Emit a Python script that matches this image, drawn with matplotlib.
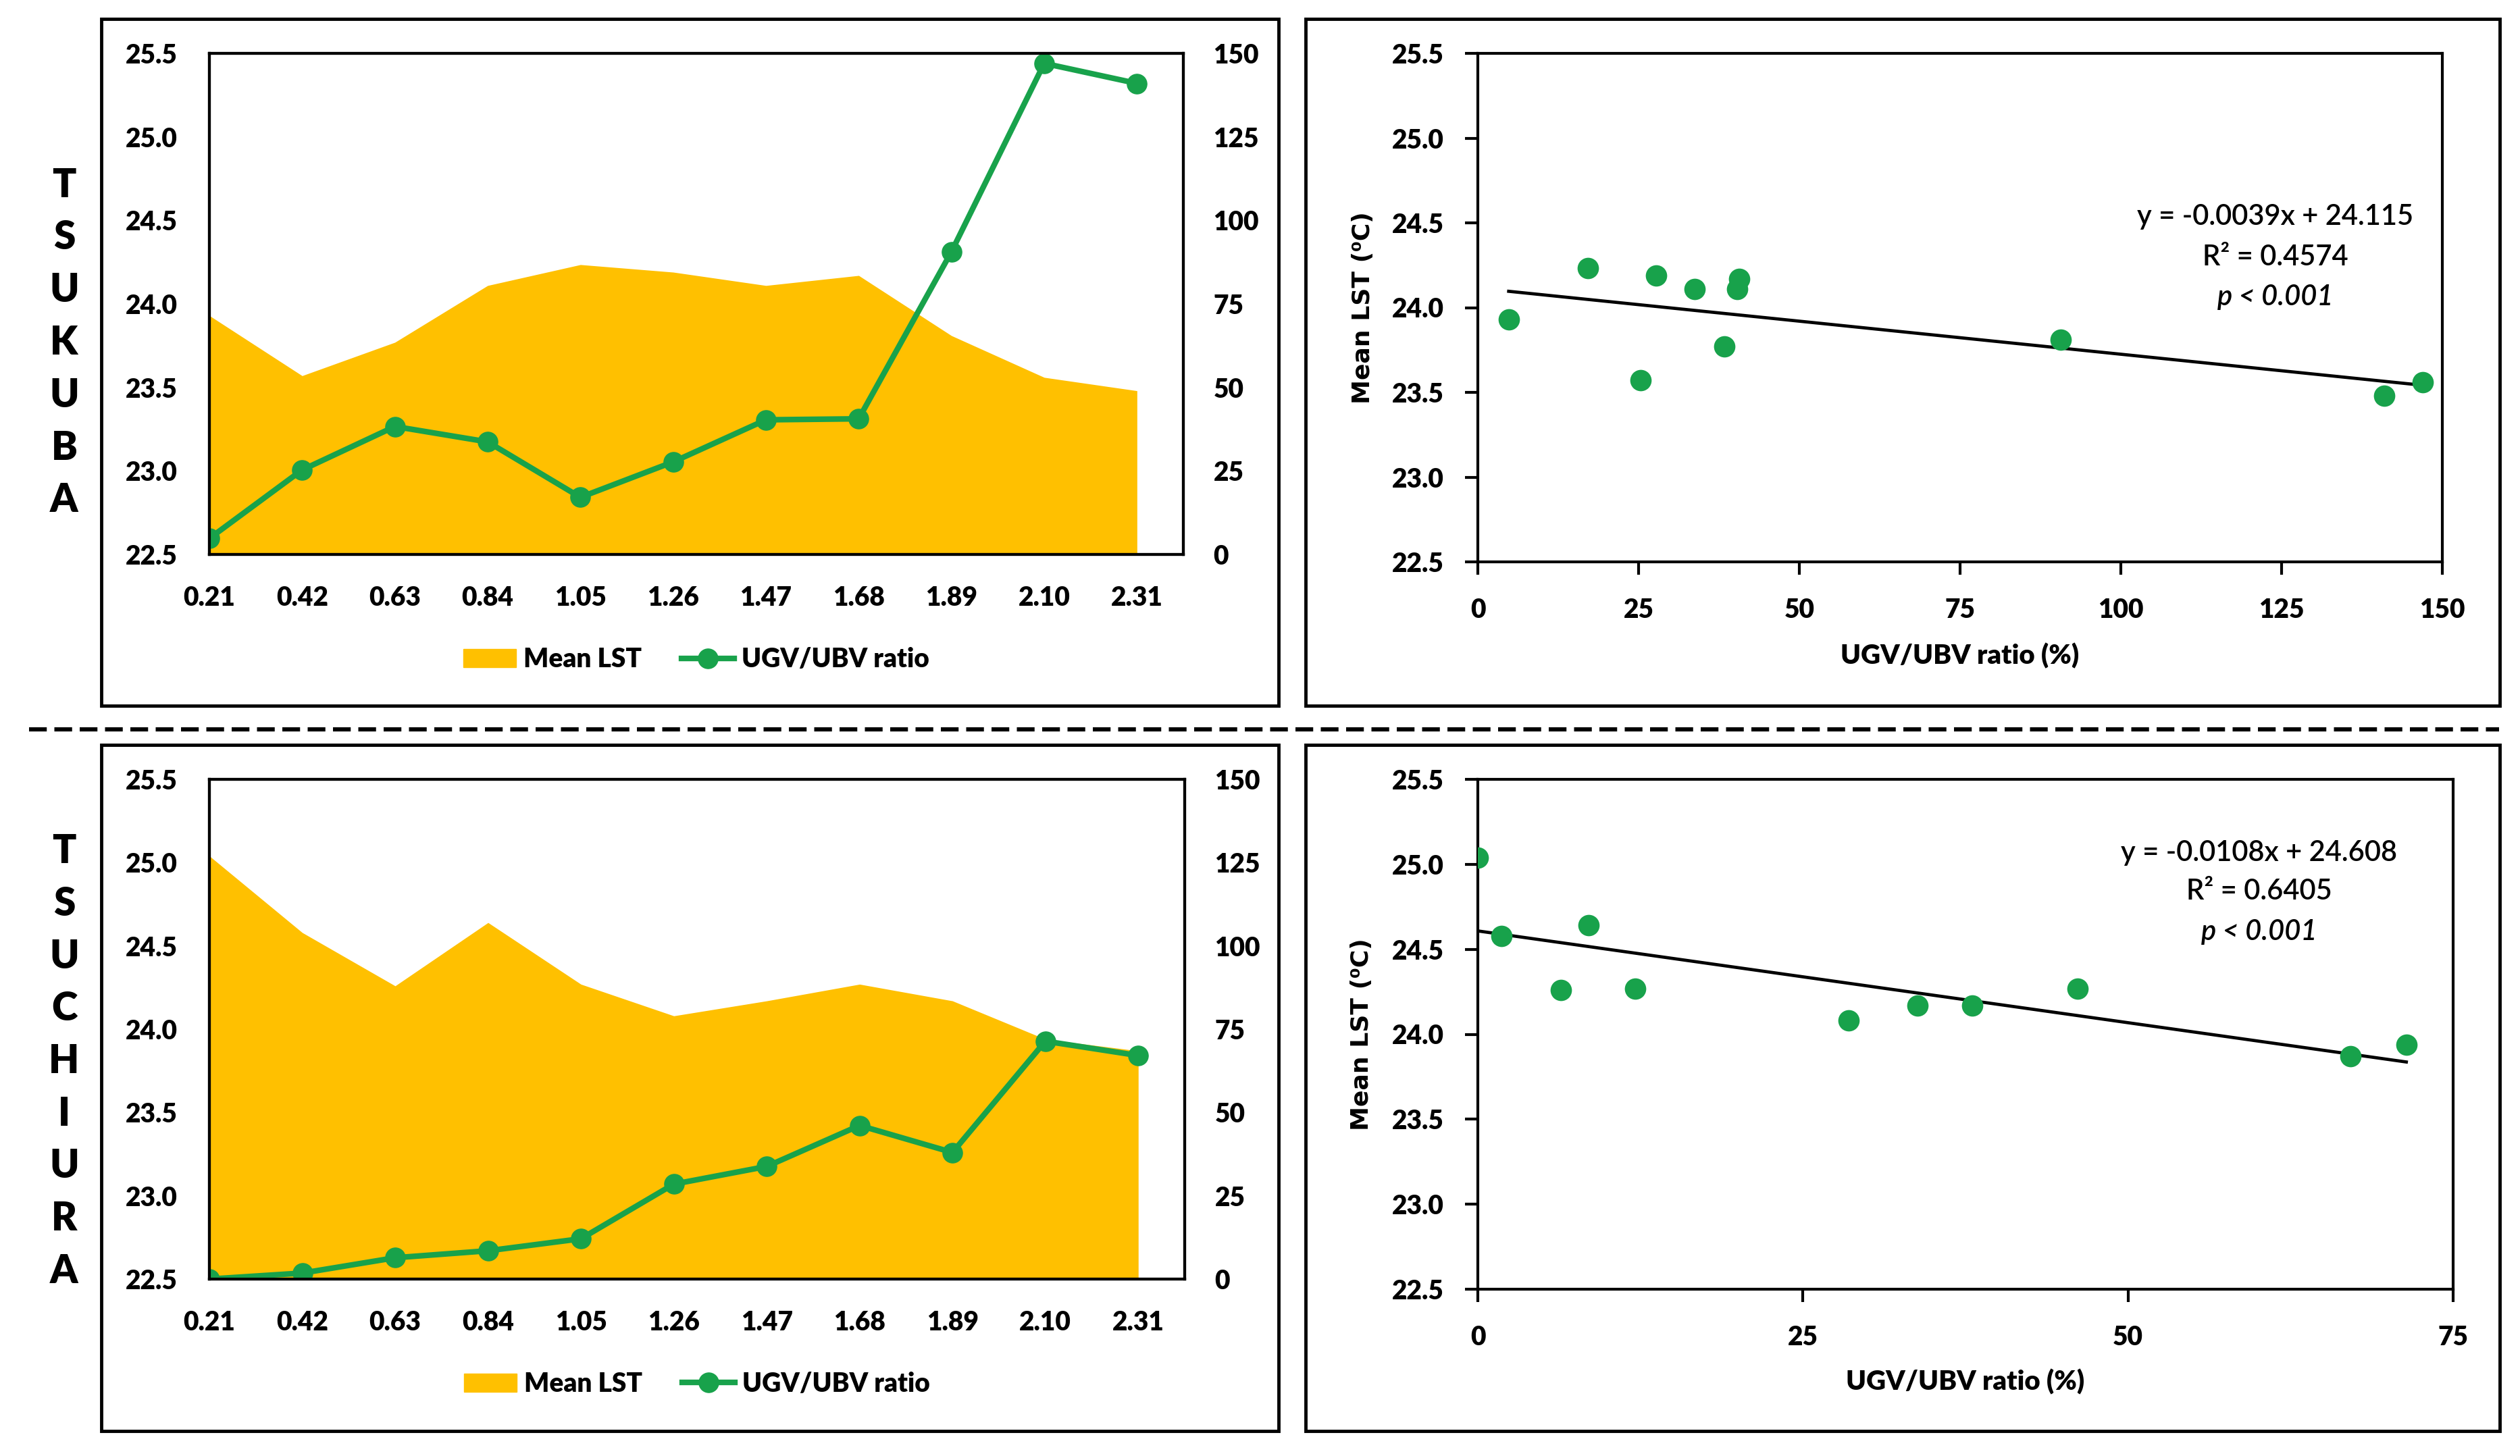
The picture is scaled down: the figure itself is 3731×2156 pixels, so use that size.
import numpy as np
import matplotlib
matplotlib.use("Agg")
import matplotlib.pyplot as plt
from matplotlib.patches import Rectangle, Patch
from matplotlib.lines import Line2D

plt.rcParams['font.family'] = ['Lato', 'DejaVu Sans']

# ---- data ----
categories = ['0.21', '0.42', '0.63', '0.84', '1.05', '1.26', '1.47', '1.68', '1.89', '2.10', '2.31']

tsukuba_lst = [23.93, 23.57, 23.77, 24.11, 24.235, 24.19, 24.11, 24.17, 23.81, 23.56, 23.48]
tsukuba_ratio = [4.8, 25.3, 38.3, 33.7, 17.1, 27.7, 40.3, 40.6, 90.6, 147.0, 141.0]

tsuchiura_lst = [25.04, 24.58, 24.26, 24.64, 24.27, 24.08, 24.17, 24.27, 24.17, 23.94, 23.87]
tsuchiura_ratio = [0.0, 1.8, 6.4, 8.5, 12.1, 28.5, 33.8, 46.1, 38.0, 71.4, 67.1]

# regression lines as printed on the chart
tsukuba_fit = (-0.0039, 24.115)
tsuchiura_fit = (-0.0108, 24.608)
tsukuba_stats = ['y = -0.0039x + 24.115', 'R² = 0.4574', 'p < 0.001']
tsuchiura_stats = ['y = -0.0108x + 24.608', 'R² = 0.6405', 'p < 0.001']

GOLD = '#FFC000'
GREEN = '#18A24B'
BOLD = 'heavy'

W, H = 3731, 2156
fig = plt.figure(figsize=(W / 100, H / 100), dpi=100)


def px_rect(left, top, right, bottom):
    return [left / W, 1 - bottom / H, (right - left) / W, (bottom - top) / H]


def frame_box(left, top, right, bottom):
    r = Rectangle((left / W, 1 - bottom / H), (right - left) / W, (bottom - top) / H,
                  transform=fig.transFigure, fill=False, lw=3.5, ec='black')
    fig.add_artist(r)


def line_panel(rect, lst, ratio):
    ax = fig.add_axes(rect)
    x = np.arange(len(categories))
    ax.fill_between(x, lst, 22.5, color=GOLD, lw=0)
    ax.set_xlim(0, len(categories) - 0.5)
    ax.set_ylim(22.5, 25.5)
    ax.set_yticks(np.arange(22.5, 25.51, 0.5))
    ax.set_yticklabels([f'{v:.1f}' for v in np.arange(22.5, 25.51, 0.5)])
    ax.set_xticks(x)
    ax.set_xticklabels(categories)
    ax.tick_params(axis='both', length=0, labelsize=28)
    ax.tick_params(axis='y', pad=34)
    ax.tick_params(axis='x', pad=33)
    for lab in ax.get_xticklabels() + ax.get_yticklabels():
        lab.set_fontweight(BOLD)
    for s in ax.spines.values():
        s.set_linewidth(3)

    ax2 = ax.twinx()
    ax2.plot(x, ratio, color=GREEN, lw=6, marker='o', ms=21, mfc=GREEN, mec=GREEN)
    ax2.set_ylim(0, 150)
    ax2.set_yticks(np.arange(0, 151, 25))
    ax2.tick_params(axis='y', length=0, labelsize=28, pad=32)
    for lab in ax2.get_yticklabels():
        lab.set_fontweight(BOLD)
    for s in ax2.spines.values():
        s.set_linewidth(3)

    handles = [Patch(color=GOLD),
               Line2D([], [], color=GREEN, lw=6, marker='o', ms=21)]
    ax.legend(handles, ['Mean LST', 'UGV/UBV ratio'], loc='center',
              bbox_to_anchor=(0.5, -0.21), ncol=2, frameon=False,
              prop={'size': 28, 'weight': BOLD}, handlelength=2.0,
              handletextpad=0.3, columnspacing=1.5)
    return ax


def scatter_panel(rect, ratio, lst, fit, stats, xmax, text_pos, lab_y):
    ax = fig.add_axes(rect)
    ax.scatter(ratio, lst, s=520, color=GREEN, lw=0, zorder=3)
    xs = np.array([min(ratio), max(ratio)])
    ax.plot(xs, fit[0] * xs + fit[1], color='black', lw=3.4, zorder=2)
    ax.set_xlim(0, xmax)
    ax.set_ylim(22.5, 25.5)
    ax.set_xticks(np.arange(0, xmax + 1, 25))
    ax.set_yticks(np.arange(22.5, 25.51, 0.5))
    ax.set_yticklabels([f'{v:.1f}' for v in np.arange(22.5, 25.51, 0.5)])
    ax.tick_params(axis='both', direction='out', length=14, width=3, labelsize=28)
    ax.tick_params(axis='y', pad=22)
    ax.tick_params(axis='x', pad=24)
    for lab in ax.get_xticklabels() + ax.get_yticklabels():
        lab.set_fontweight(BOLD)
    for s in ax.spines.values():
        s.set_linewidth(3)
    ax.set_xlabel('UGV/UBV ratio (%)', fontsize=29, fontweight=BOLD)
    ax.xaxis.set_label_coords(0.5, lab_y)
    ax.set_ylabel('Mean LST (⁰C)', fontsize=26, fontweight='bold',
                  family='DejaVu Sans', va='center')
    ax.yaxis.set_label_coords(-0.119, 0.5)
    tx, ty = text_pos
    ax.text(tx, ty[0], stats[0], transform=ax.transAxes, ha='center', va='center',
            fontsize=30, fontweight='semibold')
    ax.text(tx, ty[1], stats[1], transform=ax.transAxes, ha='center', va='center',
            fontsize=30, fontweight='semibold')
    ax.text(tx, ty[2], stats[2], transform=ax.transAxes, ha='center', va='center',
            fontsize=30, fontweight='semibold', style='italic')
    return ax


# outer frames
frame_box(150, 28, 1893, 1045)
frame_box(1933, 28, 3701, 1045)
frame_box(150, 1103, 1893, 2119)
frame_box(1933, 1103, 3701, 2119)

# dashed divider
fig.add_artist(Line2D([43 / W, 3700 / W], [1 - 1080 / H] * 2, transform=fig.transFigure,
                      color='black', lw=4.5, linestyle=(0, (4.2, 1.8))))

line_panel(px_rect(310, 79, 1752, 821), tsukuba_lst, tsukuba_ratio)
line_panel(px_rect(310, 1154, 1754, 1894), tsuchiura_lst, tsuchiura_ratio)

scatter_panel(px_rect(2188, 79, 3616, 832), tsukuba_ratio, tsukuba_lst, tsukuba_fit,
              tsukuba_stats, 150, (0.827, (0.679, 0.599, 0.521)), -0.16)
scatter_panel(px_rect(2188, 1154, 3632, 1909), tsuchiura_ratio, tsuchiura_lst, tsuchiura_fit,
              tsuchiura_stats, 75, (0.801, (0.856, 0.780, 0.701)), -0.157)

# vertical site names
for word, top, bottom in [('TSUKUBA', 274, 741), ('TSUCHIURA', 1261, 1882)]:
    for letter, yc in zip(word, np.linspace(top, bottom, len(word))):
        fig.text(95 / W, 1 - yc / H, letter, ha='center', va='center',
                 fontsize=42, fontweight=BOLD)

fig.savefig('out.png', dpi=100)
